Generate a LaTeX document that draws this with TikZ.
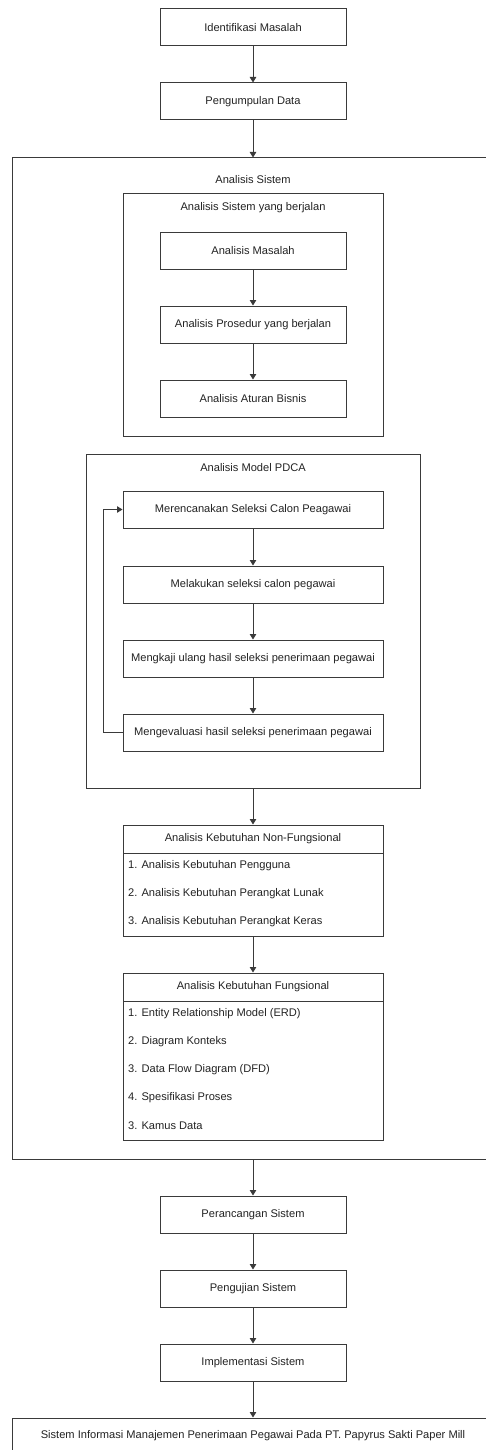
\documentclass[tikz,border=0pt]{standalone}
\usepackage{fontspec}
\setmainfont{Liberation Sans}
\usepackage{tikz}
\usetikzlibrary{arrows.meta}
\definecolor{linegray}{HTML}{3A3A3A}
\definecolor{textgray}{HTML}{222222}

\begin{document}
\begin{tikzpicture}[x=1pt,y=-1pt]
\tikzstyle{every node}=[text=textgray,font=\fontsize{11.1}{13.3}\selectfont,inner sep=0pt]
\tikzstyle{stepbox}=[draw=linegray,line width=1pt,rectangle,minimum width=186pt,minimum height=37pt]
\tikzstyle{widebox}=[draw=linegray,line width=1pt,rectangle,minimum width=260pt,minimum height=37pt]
\tikzstyle{group}=[draw=linegray,line width=1pt,rectangle]
\tikzstyle{item}=[anchor=west]
\tikzstyle{arr}=[draw=linegray,line width=1pt,-{Triangle[width=6.5pt,length=5.5pt]}]
\useasboundingbox (0,0) rectangle (486,1450);
\clip (0,0) rectangle (486,1450);
% before the analysis
\node[stepbox] (idm) at (253,27.5) {Identifikasi Masalah};
\node[stepbox] (pgd) at (253,101.5) {Pengumpulan Data};
% analisis sistem container
\node[group,minimum width=488pt,minimum height=1001pt] (sistem) at (256,658.5) {};
\node (sistemlbl) at (253,180) {Analisis Sistem};
% sistem yang berjalan
\node[group,minimum width=260pt,minimum height=242pt] (berjalan) at (253,315) {};
\node (berjalanlbl) at (253,208) {Analisis Sistem yang berjalan};
\node[stepbox] (am) at (253,250.5) {Analisis Masalah};
\node[stepbox] (ap) at (253,324.5) {Analisis Prosedur yang berjalan};
\node[stepbox] (aab) at (253,398.5) {Analisis Aturan Bisnis};
% model PDCA
\node[group,minimum width=334pt,minimum height=334pt] (pdca) at (253,621) {};
\node (pdcalbl) at (253,468) {Analisis Model PDCA};
\node[widebox] (mr) at (253,509.5) {Merencanakan Seleksi Calon Peagawai};
\node[widebox] (ml) at (253,584.5) {Melakukan seleksi calon pegawai};
\node[widebox] (mk) at (253,658.5) {Mengkaji ulang hasil seleksi penerimaan pegawai};
\node[widebox] (me) at (253,732.5) {Mengevaluasi hasil seleksi penerimaan pegawai};
% kebutuhan non-fungsional
\node[group,minimum width=260pt,minimum height=28pt] (nfhead) at (253,839) {Analisis Kebutuhan Non-Fungsional};
\node[group,minimum width=260pt,minimum height=83pt] (nfbody) at (253,894.5) {};
\node[item] (nf1) at (128,866) {1. Analisis Kebutuhan Pengguna};
\node[item] (nf2) at (128,894) {2. Analisis Kebutuhan Perangkat Lunak};
\node[item] (nf3) at (128,922) {3. Analisis Kebutuhan Perangkat Keras};
% kebutuhan fungsional
\node[group,minimum width=260pt,minimum height=28pt] (fhead) at (253,987) {Analisis Kebutuhan Fungsional};
\node[group,minimum width=260pt,minimum height=139pt] (fbody) at (253,1070.5) {};
\node[item] (f1) at (128,1014) {1. Entity Relationship Model (ERD)};
\node[item] (f2) at (128,1042) {2. Diagram Konteks};
\node[item] (f3) at (128,1070) {3. Data Flow Diagram (DFD)};
\node[item] (f4) at (128,1098) {4. Spesifikasi Proses};
\node[item] (f5) at (128,1126) {3. Kamus Data};
% after the analysis
\node[stepbox] (prs) at (253,1214.5) {Perancangan Sistem};
\node[stepbox] (pgj) at (253,1288.5) {Pengujian Sistem};
\node[stepbox] (imp) at (253,1362.5) {Implementasi Sistem};
\node[group,minimum width=488pt,minimum height=44pt] (hasil) at (256,1440) {};
\node (hasillbl) at (253,1436) {Sistem Informasi Manajemen Penerimaan Pegawai Pada PT. Papyrus Sakti Paper Mill};
% connectors
\draw[arr] (idm) -- (pgd);
\draw[arr] (pgd.south) -- (pgd.south |- sistem.north);
\draw[arr] (am) -- (ap);
\draw[arr] (ap) -- (aab);
\draw[arr] (mr) -- (ml);
\draw[arr] (ml) -- (mk);
\draw[arr] (mk) -- (me);
\draw[arr] (me.west) -- ++(-19,0) |- (mr.west);
\draw[arr] (pdca) -- (nfhead);
\draw[arr] (nfbody) -- (fhead);
\draw[arr] (prs.north |- sistem.south) -- (prs.north);
\draw[arr] (prs) -- (pgj);
\draw[arr] (pgj) -- (imp);
\draw[arr] (imp.south) -- (imp.south |- hasil.north);
\end{tikzpicture}
\end{document}
